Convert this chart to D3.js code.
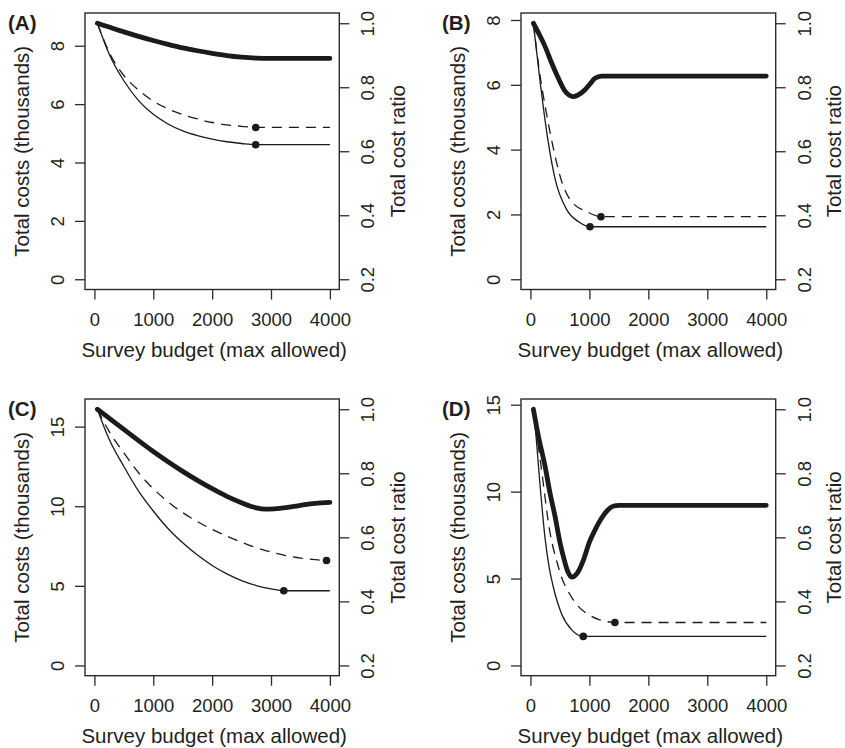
<!DOCTYPE html>
<meta charset="utf-8">
<style>
body { margin: 0; background: #fff; }
text { font-family: "Liberation Sans", Arial, sans-serif; fill: #231f20; }
</style>
<body>
<script src="https://cdn.jsdelivr.net/npm/d3@7"></script>
<script>
// values: x = survey budget, cost in thousands, ratio on right axis
var panelLabels = ["(A)", "(B)", "(C)", "(D)"];
var costMax = [8.77, 7.9, 16.09, 14.74];
var costTicks = [[0, 2, 4, 6, 8], [0, 2, 4, 6, 8], [0, 5, 10, 15], [0, 5, 10, 15]];
var ratioTicks = [0.2, 0.4, 0.6, 0.8, 1.0];
var budgetTicks = [0, 1000, 2000, 3000, 4000];

var solidA = [[50,8.77],[250,7.72],[500,6.8],[750,6.12],[1000,5.65],[1250,5.32],[1500,5.08],[1750,4.92],[2000,4.8],[2250,4.71],[2500,4.65],[2740,4.61],[4000,4.61]];
var dashA  = [[50,8.77],[250,7.78],[500,6.98],[750,6.48],[1000,6.1],[1250,5.84],[1500,5.64],[1750,5.49],[2000,5.37],[2250,5.29],[2500,5.24],[2740,5.2],[4000,5.2]];
var ratioA = [[50,1.0],[250,0.988],[500,0.973],[750,0.959],[1000,0.946],[1250,0.934],[1500,0.923],[1750,0.914],[2000,0.906],[2250,0.899],[2500,0.894],[2750,0.891],[3000,0.89],[4000,0.89]];

var solidB = [[50,7.9],[100,7.1],[164,6.1],[230,5.15],[305,4.2],[418,3.1],[615,2.15],[812,1.78],[1010,1.62],[4000,1.62]];
var dashB  = [[50,7.9],[150,6.45],[277,5.07],[389,4.04],[531,3.01],[700,2.39],[954,2.09],[1196,1.93],[4000,1.93]];
var ratioB = [[50,1.0],[150,0.965],[249,0.927],[362,0.875],[474,0.828],[587,0.788],[660,0.775],[728,0.771],[800,0.775],[926,0.792],[1010,0.81],[1095,0.828],[1208,0.835],[4000,0.835]];

var solidC = [[50,16.09],[250,14.2],[500,12.5],[750,10.95],[1000,9.7],[1250,8.6],[1500,7.7],[1750,6.93],[2000,6.28],[2250,5.75],[2500,5.33],[2750,5.02],[3000,4.81],[3217,4.69],[4000,4.69]];
var dashC  = [[50,16.09],[250,14.7],[500,13.35],[750,12.1],[1000,11.1],[1250,10.28],[1500,9.6],[1750,9.03],[2000,8.55],[2250,8.12],[2500,7.74],[2750,7.4],[3000,7.12],[3250,6.9],[3500,6.74],[3750,6.64],[3943,6.59],[4000,6.59]];
var ratioC = [[50,1.0],[250,0.972],[500,0.937],[750,0.902],[1000,0.868],[1250,0.836],[1500,0.806],[1750,0.778],[2000,0.752],[2250,0.728],[2500,0.708],[2750,0.692],[2900,0.688],[3250,0.693],[3500,0.7],[3750,0.706],[4000,0.709]];

var solidD = [[50,14.74],[100,13.0],[150,10.9],[249,7.3],[320,5.6],[389,4.5],[531,2.95],[700,2.05],[897,1.67],[4000,1.67]];
var dashD  = [[50,14.74],[181,11.45],[333,7.62],[450,5.95],[531,5.05],[650,4.2],[812,3.4],[1000,2.9],[1151,2.65],[1300,2.52],[1433,2.47],[4000,2.47]];
var ratioD = [[50,1.0],[136,0.915],[249,0.821],[330,0.74],[418,0.665],[500,0.585],[559,0.54],[630,0.495],[700,0.476],[800,0.49],[900,0.53],[1000,0.585],[1100,0.625],[1200,0.658],[1300,0.683],[1400,0.697],[1500,0.7],[4000,0.7]];

var solidDots = [[2740,4.61],[1010,1.62],[3217,4.69],[897,1.67]];
var dashDots  = [[2740,5.2],[1196,1.93],[3943,6.59],[1433,2.47]];

var solids = [solidA, solidB, solidC, solidD];
var dashes = [dashA, dashB, dashC, dashD];
var ratios = [ratioA, ratioB, ratioC, ratioD];

// plot boxes
var boxes = [
  {l: 85,  r: 339.3, t: 13,  b: 289.5, lx: 8},
  {l: 521, r: 775.7, t: 13,  b: 289.5, lx: 442},
  {l: 85,  r: 339.3, t: 399, b: 675.7, lx: 8},
  {l: 521, r: 775.7, t: 399, b: 675.7, lx: 442}
];

var ink = "#1c1a1b", axisCol = "#2b2b2b";
var tickFont = 18.5, labFont = 20.5;

var svg = d3.select("body").append("svg")
    .attr("width", 845)
    .attr("height", 748);

boxes.forEach(function(box, i){
  var g = svg.append("g");
  var x = d3.scaleLinear().domain([-160, 4160]).range([box.l, box.r]);
  var ym = costMax[i];
  var y = d3.scaleLinear().domain([-0.04 * ym, 1.04 * ym]).range([box.b, box.t]);
  var yr = d3.scaleLinear().domain([0.168, 1.032]).range([box.b, box.t]);

  // axes
  var xa = g.append("g").attr("transform", "translate(0," + box.b + ")")
    .call(d3.axisBottom(x).tickValues(budgetTicks).tickFormat(d3.format("d")).tickSize(10));
  xa.selectAll("text").attr("y", 36).attr("dy", 0).style("font-size", tickFont + "px");

  var ya = g.append("g").attr("transform", "translate(" + box.l + ",0)")
    .call(d3.axisLeft(y).tickValues(costTicks[i]).tickFormat(d3.format("d")).tickSize(10));
  ya.selectAll("text").attr("x", null).attr("dy", null).attr("text-anchor", "middle")
    .attr("transform", "translate(-21,0) rotate(-90)").style("font-size", tickFont + "px");

  var ra = g.append("g").attr("transform", "translate(" + box.r + ",0)")
    .call(d3.axisRight(yr).tickValues(ratioTicks).tickFormat(d3.format(".1f")).tickSize(10));
  ra.selectAll("text").attr("x", null).attr("dy", null).attr("text-anchor", "middle")
    .attr("transform", "translate(35,0) rotate(-90)").style("font-size", tickFont + "px");

  g.selectAll(".domain").remove();
  g.selectAll(".tick line").attr("stroke", axisCol).attr("stroke-width", 1.3);
  g.selectAll(".tick text").attr("fill", "#231f20").style("font-family", "Liberation Sans, Arial, sans-serif");

  g.append("rect")
    .attr("x", box.l).attr("y", box.t)
    .attr("width", box.r - box.l).attr("height", box.b - box.t)
    .attr("fill", "none").attr("stroke", axisCol).attr("stroke-width", 1.4);

  // titles
  g.append("text")
    .attr("x", (box.l + box.r) / 2 + 2).attr("y", box.b + 67)
    .attr("text-anchor", "middle").style("font-size", labFont + "px")
    .text("Survey budget (max allowed)");
  g.append("text")
    .attr("transform", "translate(" + (box.l - 56) + "," + ((box.t + box.b) / 2) + ") rotate(-90)")
    .attr("text-anchor", "middle").style("font-size", labFont + "px")
    .text("Total costs (thousands)");
  g.append("text")
    .attr("transform", "translate(" + (box.r + 65.5) + "," + ((box.t + box.b) / 2) + ") rotate(-90)")
    .attr("text-anchor", "middle").style("font-size", labFont + "px")
    .text("Total cost ratio");
  g.append("text")
    .attr("x", box.lx).attr("y", box.t + 17)
    .style("font-size", "20.5px").style("font-weight", "bold")
    .text(panelLabels[i]);

  // curves
  var costLine = d3.line().x(function(d){ return x(d[0]); }).y(function(d){ return y(d[1]); })
    .curve(d3.curveMonotoneX);
  var ratioLine = d3.line().x(function(d){ return x(d[0]); }).y(function(d){ return yr(d[1]); })
    .curve(d3.curveMonotoneX);

  g.append("path").datum(solids[i]).attr("d", costLine)
    .attr("fill", "none").attr("stroke", ink).attr("stroke-width", 1.3);
  g.append("path").datum(dashes[i]).attr("d", costLine)
    .attr("fill", "none").attr("stroke", ink).attr("stroke-width", 1.3)
    .attr("stroke-dasharray", "10,7");
  g.append("path").datum(ratios[i]).attr("d", ratioLine)
    .attr("fill", "none").attr("stroke", ink).attr("stroke-width", 4.8)
    .attr("stroke-linecap", "round").attr("stroke-linejoin", "round");

  g.selectAll(".dot")
    .data([solidDots[i], dashDots[i]])
    .enter().append("circle")
    .attr("cx", function(d){ return x(d[0]); })
    .attr("cy", function(d){ return y(d[1]); })
    .attr("r", 3.8)
    .attr("fill", ink);
});
</script>
</body>
